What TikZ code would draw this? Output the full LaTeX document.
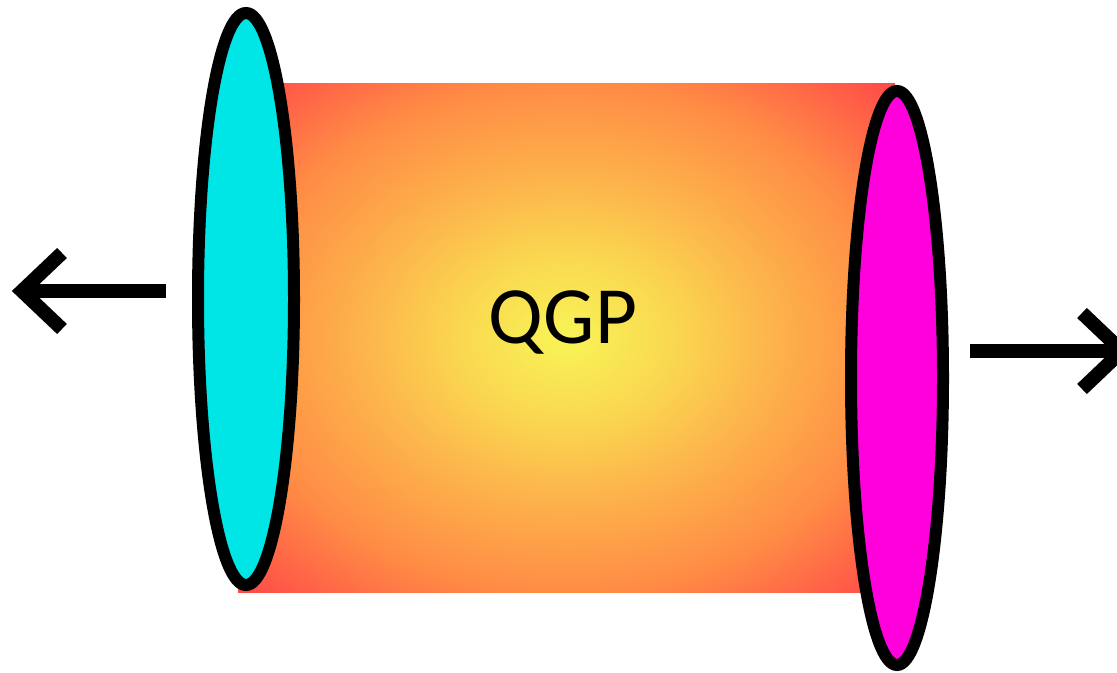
\documentclass[tikz,border=0pt]{standalone}
\usepackage{fontspec}
\newfontfamily\qgpfont{Carlito}
\usetikzlibrary{shapes.geometric}
\definecolor{qyel}{HTML}{F8F456}
\definecolor{qlyel}{HTML}{FAD850}
\definecolor{qorA}{HTML}{FDB24B}
\definecolor{qorB}{HTML}{FF8C45}
\definecolor{qred}{HTML}{FF4848}
\definecolor{qcyan}{HTML}{00E6E6}
\definecolor{qmag}{HTML}{FF00DD}
\pgfdeclareradialshading{qgpshade}{\pgfpoint{0bp}{0bp}}{%
  color(0bp)=(qyel); color(8bp)=(qlyel); color(16bp)=(qorA); color(25bp)=(qorB);
  color(35.4bp)=(qred); color(50bp)=(qred)}
\tikzset{
  disc/.style={ellipse, draw=black, line width=9pt, inner sep=0pt},
  bigarrow/.style={draw=black, line width=10.5pt, line cap=butt, line join=miter},
}
\begin{document}
\begin{tikzpicture}[x=0.75pt,y=-0.75pt]
\clip (0,0) rectangle (1117,673);
\fill[white] (0,0) rectangle (1117,673);
% plasma body
\node[rectangle, inner sep=0pt, minimum width=492.75pt, minimum height=381pt,
      shading=qgpshade] (body) at (566.5,338) {};
\node[font=\qgpfont\fontsize{61}{64}\selectfont] (qgp) at (563,322) {QGP};
% nuclei
\node[disc, fill=qcyan, minimum width=72pt, minimum height=429pt] (L) at (246,299) {};
\node[disc, fill=qmag, minimum width=69pt, minimum height=430.5pt] (R) at (897,378) {};
% arrows
\coordinate (ls) at (166,291);
\coordinate (lt) at (22,291);
\coordinate (rs) at (970,351);
\coordinate (rt) at (1122,351);
\draw[bigarrow] (ls) -- (lt);
\draw[bigarrow] ([shift={(40,-38)}]lt) -- (lt) -- ([shift={(40,38)}]lt);
\draw[bigarrow] (rs) -- (rt);
\draw[bigarrow] ([shift={(-40,-38)}]rt) -- (rt) -- ([shift={(-40,38)}]rt);
\end{tikzpicture}
\end{document}
